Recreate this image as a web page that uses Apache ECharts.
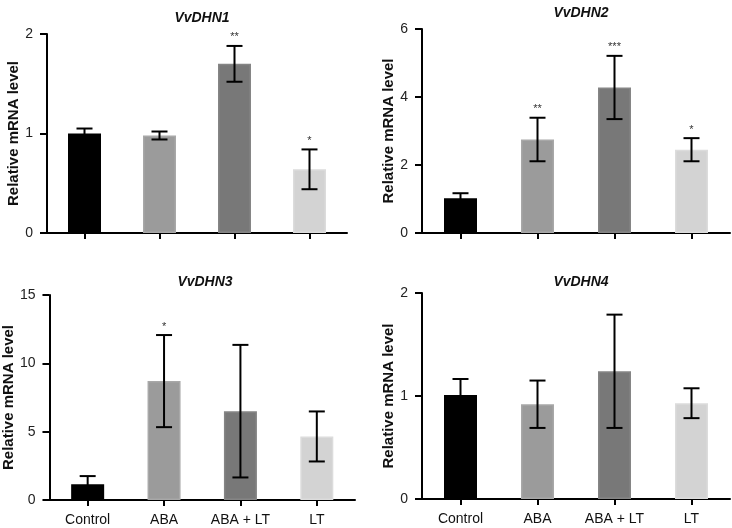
<!DOCTYPE html>
<html>
<head>
<meta charset="utf-8">
<script src="https://cdn.jsdelivr.net/npm/echarts@6/dist/echarts.min.js"></script>
<style>
  html, body { margin: 0; padding: 0; background: #fff; }
  #main { width: 732px; height: 528px; }
</style>
</head>
<body>
<div id="main"></div>
<script>
const categories = ['Control', 'ABA', 'ABA + LT', 'LT'];
const genes = ['VvDHN1', 'VvDHN2', 'VvDHN3', 'VvDHN4'];

const dhn1Mean = [1.00, 0.98, 1.70, 0.64];
const dhn1Err = [0.05, 0.04, 0.18, 0.20];
const dhn1Sig = ['', '', '**', '*'];

const dhn2Mean = [1.02, 2.75, 4.28, 2.45];
const dhn2Err = [0.15, 0.64, 0.93, 0.34];
const dhn2Sig = ['', '**', '***', '*'];

const dhn3Mean = [1.15, 8.70, 6.50, 4.65];
const dhn3Err = [0.60, 3.37, 4.85, 1.83];
const dhn3Sig = ['', '*', '', ''];

const dhn4Mean = [1.01, 0.92, 1.24, 0.93];
const dhn4Err = [0.155, 0.23, 0.55, 0.145];
const dhn4Sig = ['', '', '', ''];

const yMax = [2, 6, 15, 2];
const yStep = [1, 2, 5, 1];

const barColors = ['#000000', '#9b9b9b', '#787878', '#d3d3d3'];
const barBorders = ['#000000', '#a8a8a8', '#858585', '#dcdcdc'];

const means = [dhn1Mean, dhn2Mean, dhn3Mean, dhn4Mean];
const errs = [dhn1Err, dhn2Err, dhn3Err, dhn4Err];
const sigs = [dhn1Sig, dhn2Sig, dhn3Sig, dhn4Sig];

// panel layout
const grids = [
  { left: 47, top: 34, width: 300, height: 199 },
  { left: 422, top: 29, width: 308, height: 204 },
  { left: 45, top: 295, width: 310, height: 205 },
  { left: 422, top: 293, width: 308, height: 206 }
];
const titleTop = [6, 1, 270, 270];
const nameGap = [25, 22, 32, 22];

let chart = echarts.init(document.getElementById('main'));

const font = 'Liberation Sans, Arial, Helvetica, sans-serif';

let title = [], xAxis = [], yAxis = [], series = [];
for (let i = 0; i < 4; i++) {
  const g = grids[i];
  title.push({
    text: genes[i],
    left: g.left + g.width / 2,
    top: titleTop[i],
    textAlign: 'center',
    textStyle: { fontFamily: font, fontSize: 14, fontWeight: 'bold', fontStyle: 'italic', color: '#111' }
  });
  xAxis.push({
    type: 'category',
    gridIndex: i,
    data: categories,
    axisLine: { show: true, lineStyle: { color: '#000', width: 2 } },
    axisTick: { show: true, alignWithLabel: true, interval: 0, length: 6, lineStyle: { color: '#000', width: 2 } },
    axisLabel: { show: i >= 2, interval: 0, margin: 13, fontFamily: font, fontSize: 14, color: '#111' },
    splitLine: { show: false }
  });
  yAxis.push({
    type: 'value',
    gridIndex: i,
    min: 0,
    max: yMax[i],
    interval: yStep[i],
    name: 'Relative mRNA level',
    nameLocation: 'middle',
    nameGap: nameGap[i],
    nameTextStyle: { fontFamily: font, fontSize: 15, fontWeight: 'bold', color: '#111' },
    axisLine: { show: true, lineStyle: { color: '#000', width: 2 } },
    axisTick: { show: true, length: 7, lineStyle: { color: '#000', width: 2 } },
    axisLabel: { margin: 14, fontFamily: font, fontSize: 14, color: '#222' },
    splitLine: { show: false }
  });
  series.push({
    type: 'bar',
    xAxisIndex: i,
    yAxisIndex: i,
    barWidth: 33,
    data: means[i].map((v, k) => ({
      value: v,
      itemStyle: { color: barColors[k], borderColor: barBorders[k], borderWidth: 1.5 }
    })),
    silent: true
  });
  const sig = sigs[i];
  series.push({
    type: 'custom',
    xAxisIndex: i,
    yAxisIndex: i,
    z: 5,
    silent: true,
    data: means[i].map((v, k) => [k, v, errs[i][k]]),
    renderItem: function (params, api) {
      const x = api.value(0), m = api.value(1), e = api.value(2);
      const top = api.coord([x, m + e]);
      const bot = api.coord([x, m - e]);
      const half = 8;
      const st = { stroke: '#000', lineWidth: 2 };
      const kids = [
        { type: 'line', shape: { x1: top[0], y1: top[1], x2: bot[0], y2: bot[1] }, style: st },
        { type: 'line', shape: { x1: top[0] - half, y1: top[1], x2: top[0] + half, y2: top[1] }, style: st },
        { type: 'line', shape: { x1: bot[0] - half, y1: bot[1], x2: bot[0] + half, y2: bot[1] }, style: st }
      ];
      const s = sig[params.dataIndex];
      if (s) {
        kids.push({
          type: 'text',
          style: {
            text: s, x: top[0], y: top[1] - 3,
            align: 'center', verticalAlign: 'bottom',
            font: '11px ' + font, fill: '#333'
          }
        });
      }
      return { type: 'group', children: kids };
    }
  });
}

chart.setOption({
  animation: false,
  backgroundColor: '#fff',
  title: title,
  grid: grids,
  xAxis: xAxis,
  yAxis: yAxis,
  series: series
});
</script>
</body>
</html>
